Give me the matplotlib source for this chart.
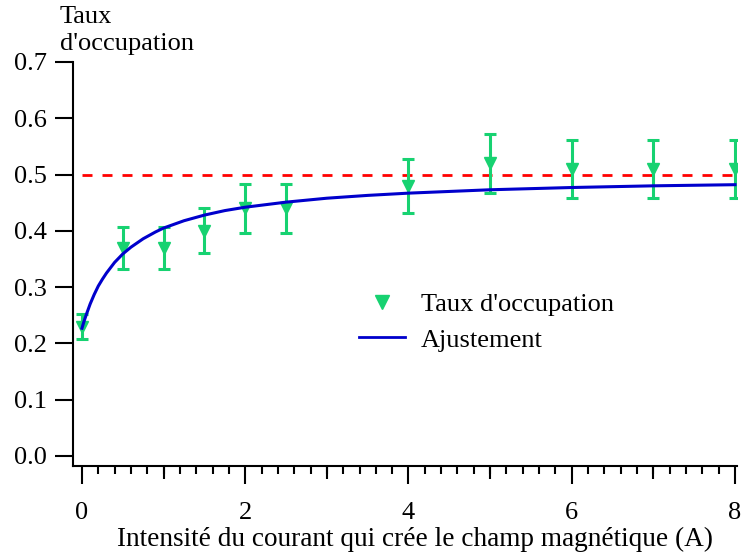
import matplotlib
matplotlib.use("Agg")
import matplotlib.pyplot as plt
from matplotlib.ticker import MultipleLocator, FormatStrFormatter
from matplotlib.lines import Line2D

plt.rcParams["font.family"] = ["Liberation Serif", "DejaVu Serif"]

# measured points (current in A, occupation rate, error)
current = [0.0, 0.5, 1.0, 1.5, 2.0, 2.5, 4.0, 5.0, 6.0, 7.0, 8.0]
occupation = [0.23, 0.37, 0.37, 0.40, 0.44, 0.44, 0.48, 0.52, 0.51, 0.51, 0.51]
occ_err = [0.023, 0.037, 0.037, 0.040, 0.044, 0.044, 0.048, 0.052, 0.051, 0.051, 0.051]

# fit curve
fit_x = [0.0, 0.02, 0.05, 0.1, 0.15, 0.2, 0.25, 0.3, 0.4, 0.5, 0.6, 0.75, 0.9,
         1.0, 1.25, 1.5, 1.75, 2.0, 2.5, 3.0, 3.5, 4.0, 5.0, 6.0, 7.0, 8.0]
fit_y = [0.227, 0.237, 0.250, 0.270, 0.287, 0.302, 0.314, 0.325, 0.344, 0.359,
         0.371, 0.386, 0.398, 0.405, 0.418, 0.428, 0.436, 0.442, 0.451, 0.458,
         0.463, 0.467, 0.473, 0.477, 0.480, 0.482]

ref_level = 0.5
x_range = (0.0, 8.0)

green = "#17d271"
blue = "#0000cc"
fs = 19

W, H = 742, 556
fig = plt.figure(figsize=(W / 100, H / 100), dpi=100)
ax = fig.add_axes([73 / W, 1 - 465.5 / H, (737 - 73) / W, (465.5 - 62) / H])

ax.hlines(ref_level, *x_range, colors="#ff0000", linewidth=2.0,
          linestyles=(0, (3.6, 3.6)), zorder=1)
ax.plot(fit_x, fit_y, color=blue, linewidth=2.2, zorder=3)
ax.errorbar(current, occupation, yerr=occ_err, fmt="v", color=green,
            markersize=8, elinewidth=2.2, capsize=4, capthick=2.2, zorder=2)

ax.set_xlim(-0.110, 8.0245)
ax.set_ylim(-0.0169, 0.7)

for s in ["top", "right"]:
    ax.spines[s].set_visible(False)
for s in ["left", "bottom"]:
    ax.spines[s].set_linewidth(1.5)

ax.xaxis.set_major_locator(MultipleLocator(2))
ax.xaxis.set_minor_locator(MultipleLocator(0.2))
ax.yaxis.set_major_locator(MultipleLocator(0.1))
ax.yaxis.set_major_formatter(FormatStrFormatter("%.1f"))

ax.tick_params(axis="y", which="major", direction="out", length=13, width=1.5,
               pad=6, labelsize=fs)
ax.tick_params(axis="x", which="major", direction="out", length=13, width=1.5,
               pad=13, labelsize=fs)
ax.tick_params(axis="x", which="minor", direction="out", length=6, width=1.5)

# medium ticks at the odd integers
mid = ax.secondary_xaxis("bottom")
mid.set_xticks([1, 3, 5, 7])
mid.set_xticklabels([])
mid.tick_params(direction="out", length=9.5, width=1.5)
mid.spines["bottom"].set_visible(False)

ax.set_xlabel("Intensité du courant qui crée le champ magnétique (A)",
              fontsize=19.6, labelpad=2)
ax.xaxis.label.set_x(0.515)

fig.text(60 / W, 1 - 6 / H, "Taux\nd'occupation", ha="left", va="top",
         fontsize=fs, linespacing=1.3)

handles = [
    Line2D([], [], marker="v", linestyle="none", color=green, markersize=10),
    Line2D([], [], color=blue, linewidth=2.0),
]
fig.legend(handles, ["Taux d'occupation", "Ajustement"], loc="upper left",
           bbox_to_anchor=(359 / W, 1 - 293 / H), frameon=False, fontsize=fs,
           handlelength=1.75, handletextpad=0.6, labelspacing=0.44,
           borderpad=0, borderaxespad=0)

fig.savefig("out.png", dpi=100)
